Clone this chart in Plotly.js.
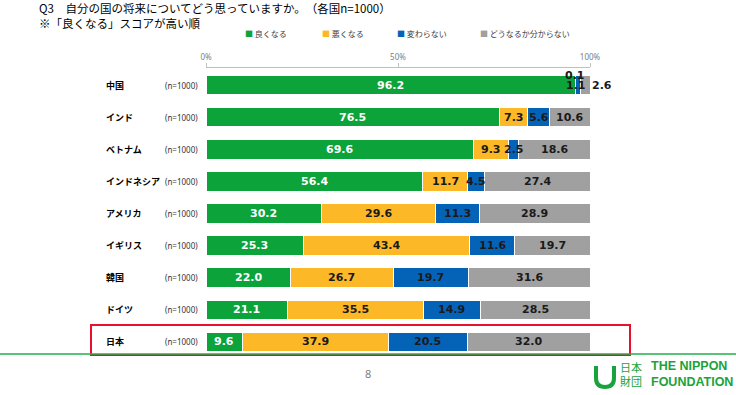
<!DOCTYPE html>
<html>
<head>
<meta charset="utf-8">
<script src="https://cdn.plot.ly/plotly-3.0.1.min.js"></script>
<style>html,body{margin:0;padding:0;background:#fff;}#chart{width:736px;height:395px;}</style>
</head>
<body>
<div id="chart"></div>
<script>
// ---- data ----
const countries = ['中国','インド','ベトナム','インドネシア','アメリカ','イギリス','韓国','ドイツ','日本'];
const sampleSizes = [1000,1000,1000,1000,1000,1000,1000,1000,1000];
const seriesNames = ['良くなる','悪くなる','変わらない','どうなるか分からない'];
const better  = [96.2,76.5,69.6,56.4,30.2,25.3,22.0,21.1,9.6];
const worse   = [0.1,7.3,9.3,11.7,29.6,43.4,26.7,35.5,37.9];
const same    = [1.1,5.6,2.5,4.5,11.3,11.6,19.7,14.9,20.5];
const unknown = [2.6,10.6,18.6,27.4,28.9,19.7,31.6,28.5,32.0];
const tickVals = [0,50,100];
const titleLine1 = 'Q3　自分の国の将来についてどう思っていますか。　（各国n=1000）';
const titleLine2 = '※「良くなる」スコアが高い順';
const pageNumber = '8';

// ---- styling ----
const colors = ['#0ba33a','#fdb827','#0563b7','#a0a0a0'];
const textColors = ['#ffffff','#1a1a1a','#1a1a1a','#1a1a1a'];
const series = [better, worse, same, unknown];
const W = 736, H = 395;
const L = 206, R = 146, T = 68, B = 38;
const PW = W - L - R, PH = H - T - B;
const px = x => (x - L) / PW;          // pixel -> paper x
const py = y => (H - B - y) / PH;      // pixel -> paper y
const outsideRow = 0;                  // China: tiny segments labelled outside the segments

const traces = series.map((vals, s) => ({
  type: 'bar',
  orientation: 'h',
  name: seriesNames[s],
  x: vals,
  y: countries,
  marker: {color: colors[s], line: {color: '#ffffff', width: 1}},
  hoverinfo: 'skip',
  showlegend: false
}));

const annotations = [];
// titles
annotations.push({xref:'paper', yref:'paper', x:px(37), y:py(-2), xanchor:'left', yanchor:'top',
  align:'left', text:titleLine1 + '<br>' + titleLine2, showarrow:false,
  font:{family:'Noto Sans CJK JP', size:11.5, color:'#000'}});
// legend (manual, small square markers)
const legendX = [243, 320, 395, 478];
seriesNames.forEach((n, s) => {
  annotations.push({xref:'paper', yref:'paper', x:px(legendX[s]), y:py(34), xanchor:'left', yanchor:'middle',
    text:'<span style="color:' + colors[s] + '">■</span> ' + n, showarrow:false,
    font:{family:'Noto Sans CJK JP', size:8, color:'#404040'}});
});
// row labels
countries.forEach((c, i) => {
  annotations.push({xref:'paper', yref:'y', x:px(104), y:c, xanchor:'left', yanchor:'middle',
    text:'<b>' + c + '</b>', showarrow:false, font:{family:'Noto Sans CJK JP', size:9, color:'#000'}});
  annotations.push({xref:'paper', yref:'y', x:px(163), y:c, xanchor:'left', yanchor:'middle',
    text:'(n=' + sampleSizes[i] + ')', showarrow:false, font:{family:'Noto Sans', size:8, color:'#333'}});
});
// value labels, placed at the middle of each stacked segment
countries.forEach((c, i) => {
  let cum = 0;
  series.forEach((vals, s) => {
    const v = vals[i];
    const start = cum; cum += v;
    const lf = {family:'DejaVu Sans', size:11, color:textColors[s], weight:'bold'};
    const a = {xref:'x', yref:'y', x:(start + cum) / 2, y:c, xanchor:'center', yanchor:'middle',
      text:v.toFixed(1), showarrow:false, font:lf};
    if (i === outsideRow && s > 0) {
      lf.color = '#1a1a1a';
      if (s === 1) { a.yshift = 10; a.xshift = -1; }
      if (s === 2) { a.xshift = -2; }
      if (s === 3) { a.x = cum; a.xanchor = 'left'; a.xshift = 0; }
    }
    annotations.push(a);
  });
});
// page number
annotations.push({xref:'paper', yref:'paper', x:px(368), y:py(373), xanchor:'center', yanchor:'middle',
  text:pageNumber, showarrow:false, font:{family:'Noto Sans', size:11, color:'#808080'}});
// logo text
annotations.push({xref:'paper', yref:'paper', x:px(619), y:py(374), xanchor:'left', yanchor:'middle',
  text:'日本<br>財団', showarrow:false, borderpad:0, font:{family:'Noto Sans CJK JP', size:11, color:'#1aa33c'}});
annotations.push({xref:'paper', yref:'paper', x:px(650), y:py(374), xanchor:'left', yanchor:'middle',
  align:'left', text:'<b>THE NIPPON<br>FOUNDATION</b>', showarrow:false, borderpad:0,
  font:{family:'Liberation Sans', size:12.5, color:'#1aa33c'}});

const shapes = [
  // highlight box around Japan
  {type:'rect', xref:'paper', yref:'paper', x0:px(91), x1:px(630), y0:py(355), y1:py(325),
   line:{color:'#e8112d', width:2}, fillcolor:'rgba(0,0,0,0)'},
  // green footer rule
  {type:'line', xref:'paper', yref:'paper', x0:px(0), x1:px(736), y0:py(354), y1:py(354),
   line:{color:'#22b14c', width:1.5}},
  // logo mark (simple)
  {type:'path', xref:'paper', yref:'paper',
   path:'M ' + px(596) + ',' + py(366) + ' L ' + px(596) + ',' + py(378) +
        ' Q ' + px(596) + ',' + py(387) + ' ' + px(605) + ',' + py(387) +
        ' Q ' + px(614) + ',' + py(387) + ' ' + px(614) + ',' + py(378) +
        ' L ' + px(614) + ',' + py(366),
   line:{color:'#1aa33c', width:4}, fillcolor:'rgba(0,0,0,0)'}
];

const layout = {
  width: W, height: H,
  margin: {l:L, r:R, t:T, b:B, pad:0},
  paper_bgcolor:'#fff', plot_bgcolor:'#fff',
  barmode:'stack', bargap:0.39,
  showlegend:false,
  xaxis: {side:'top', range:[0,100], tickvals:tickVals, ticktext:tickVals.map(v => v + '%'),
    showgrid:false, zeroline:false, showline:true, linecolor:'#bfbfbf', linewidth:1,
    ticks:'outside', ticklen:4, tickcolor:'#bfbfbf',
    tickfont:{family:'Noto Sans', size:8, color:'#808080'}, fixedrange:true},
  yaxis: {type:'category', categoryorder:'array', categoryarray:countries,
    range:[8.47,-0.53], showticklabels:false, showgrid:false, zeroline:false, showline:false, ticks:''},
  annotations, shapes
};

Plotly.newPlot('chart', traces, layout, {staticPlot:true, displayModeBar:false});
</script>
</body>
</html>
